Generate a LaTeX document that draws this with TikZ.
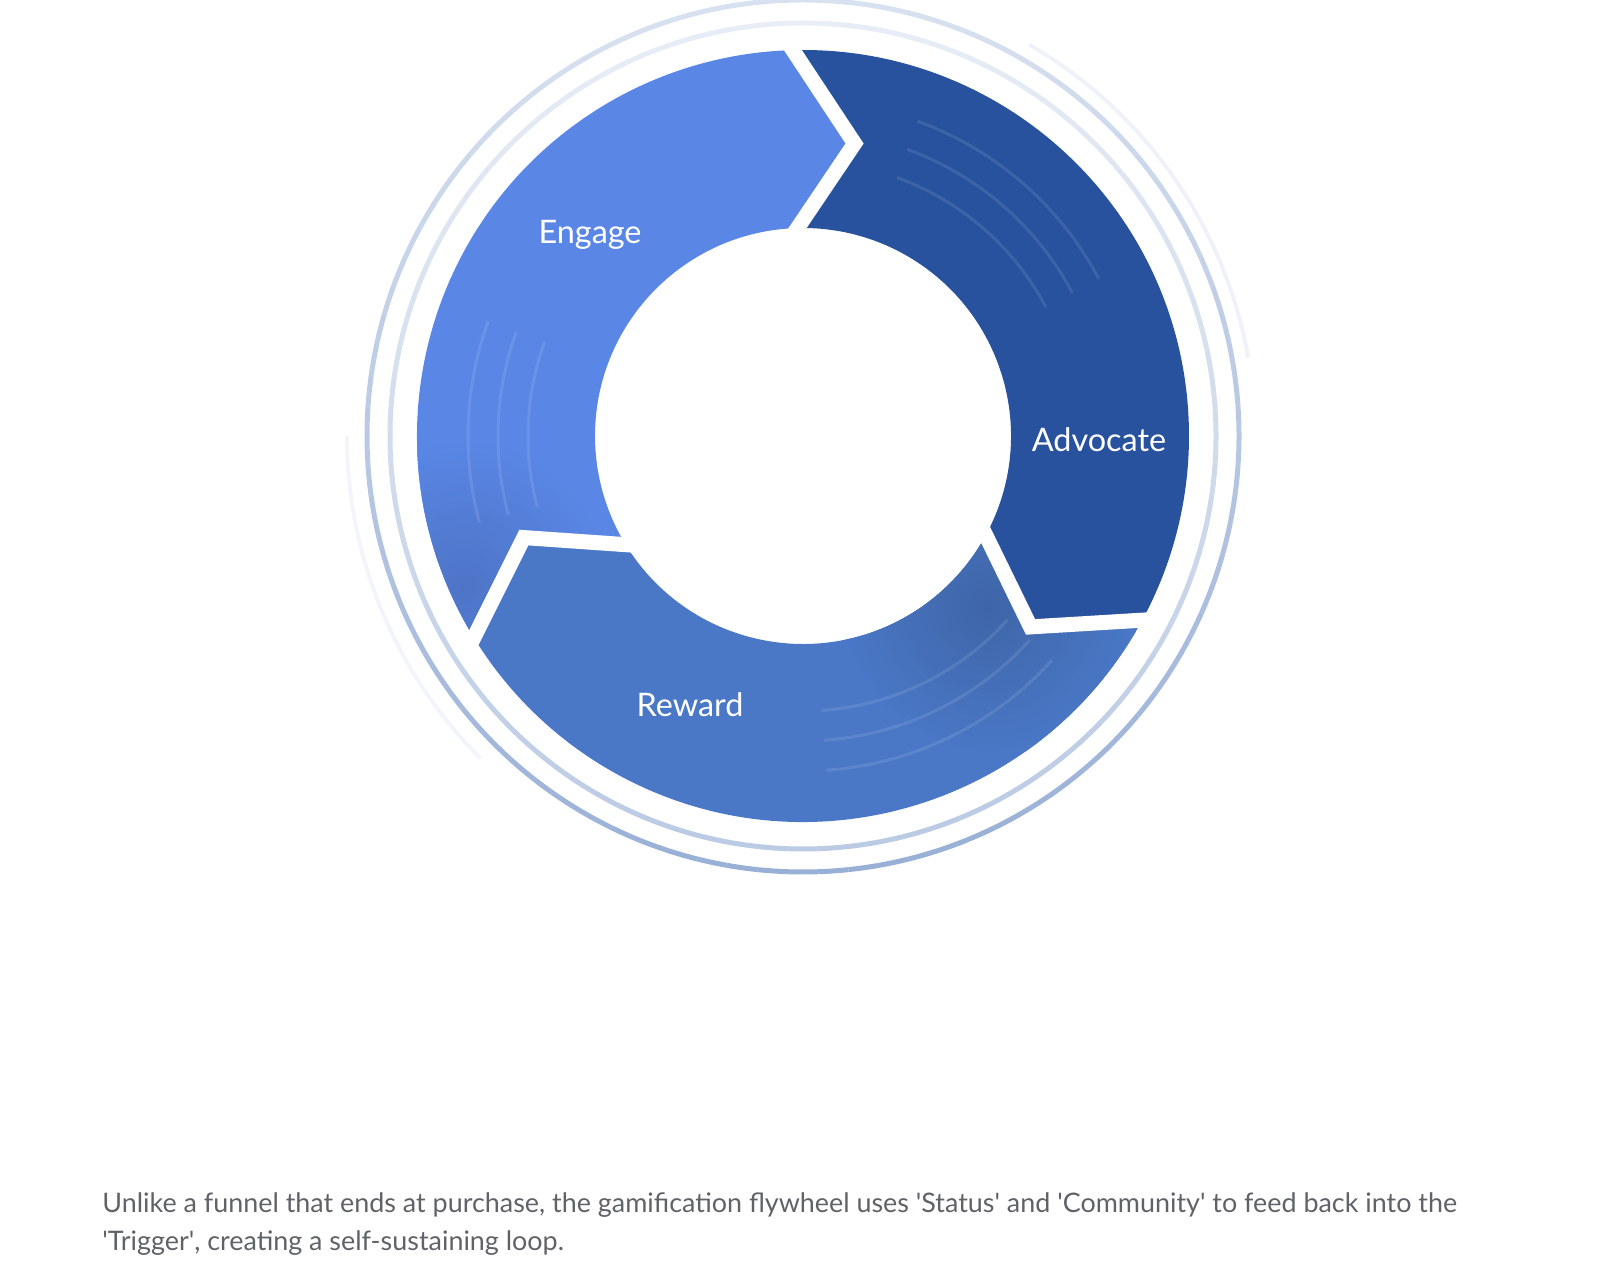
\documentclass[tikz,border=0pt]{standalone}
\usepackage{fontspec}
\setmainfont{Lato}
\definecolor{engageblue}{HTML}{5A87E6}
\definecolor{advocateblue}{HTML}{28529E}
\definecolor{rewardblue}{HTML}{4A78C7}
\definecolor{ringblue}{HTML}{7F9CCC}
\definecolor{captiongray}{HTML}{5F6368}
% one segment of the flywheel, running clockwise from #1+120 to #1
\newcommand{\segpath}[1]{(#1+120:\ro) arc[start angle=#1+120,end angle=#1,radius=\ro]
	-- (#1-\tip:\rm) -- (#1:\ri)
	arc[start angle=#1,end angle=#1+120,radius=\ri]
	-- (#1+120-\tip:\rm) -- cycle}

\begin{document}
\begin{tikzpicture}[x=0.5pt,y=0.5pt,
    label/.style={text=white,font=\fontsize{16.2}{19}\selectfont},
    caption/.style={text=captiongray,font=\fontsize{13.45}{18}\selectfont,anchor=west,inner sep=0pt},
    gapline/.style={white,line width=7.5pt,line join=miter,line cap=rect},
    ringline/.style={ringblue,line width=2.5pt},
    sheen/.style={white,line width=1.5pt,opacity=0.1}]
	\useasboundingbox (0,0) rectangle (1600,1274);
	% Define ring radii and arrow tip
	\def \ri {208}
	\def \ro {386}
	\def \rm {297}
	\def \tip {11.5}
	\begin{scope}[shift={(803,838)}]
		% Draw outer rings
		\foreach \a in {0,4,...,356} {
			\pgfmathsetmacro{\opa}{0.3+0.5*(1-sin(\a))/2}
			\pgfmathsetmacro{\opb}{0.18+0.35*(1-sin(\a))/2}
			\draw[ringline,draw opacity=\opa] (\a:436) arc[start angle=\a,end angle=\a+4,radius=436];
			\draw[ringline,draw opacity=\opb] (\a:413) arc[start angle=\a,end angle=\a+4,radius=413];
		}
		\draw[ringline,line width=2pt,draw opacity=0.1] (180:456) arc[start angle=180,end angle=225,radius=456];
		\draw[ringline,line width=2pt,draw opacity=0.12] (10:452) arc[start angle=10,end angle=60,radius=452];
		% Draw segments
		\foreach \h/\col in {91.5/engageblue,-28.5/advocateblue,211.5/rewardblue} {
			\fill[\col] \segpath{\h};
		}
		% Shadows where the segments meet
		\begin{scope}
			\clip \segpath{211.5};
			\shade[inner color=black!16!rewardblue,outer color=rewardblue] (185,-170) circle (150);
		\end{scope}
		\begin{scope}
			\clip \segpath{91.5};
			\shade[inner color=black!14!engageblue,outer color=engageblue] (-340,-150) circle (150);
		\end{scope}
		% Faint arcs inside segments
		\foreach \r in {275,305,335} {
			\draw[sheen] (70:\r) arc[start angle=70,end angle=28,radius=\r];
			\draw[sheen] (195:\r) arc[start angle=195,end angle=160,radius=\r];
			\draw[sheen] (318:\r) arc[start angle=318,end angle=274,radius=\r];
		}
		% Draw gaps between segments
		\foreach \h in {91.5,-28.5,211.5} {
			\draw[gapline] (\h:\ro) -- (\h-\tip:\rm) -- (\h:\ri);
		}
	\end{scope}
	% Draw labels
	\node[label] (engage) at (590,1039) {Engage};
	\node[label] (advocate) at (1099,834) {Advocate};
	\node[label] (reward) at (690,569) {Reward};
	% Caption
	\node[caption] (capone) at (102,69) {Unlike a funnel that ends at purchase, the gamification flywheel uses \textquotesingle Status\textquotesingle{} and \textquotesingle Community\textquotesingle{} to feed back into the};
	\node[caption] (captwo) at (102,31) {\textquotesingle Trigger\textquotesingle, creating a self-sustaining loop.};
\end{tikzpicture}
\end{document}
